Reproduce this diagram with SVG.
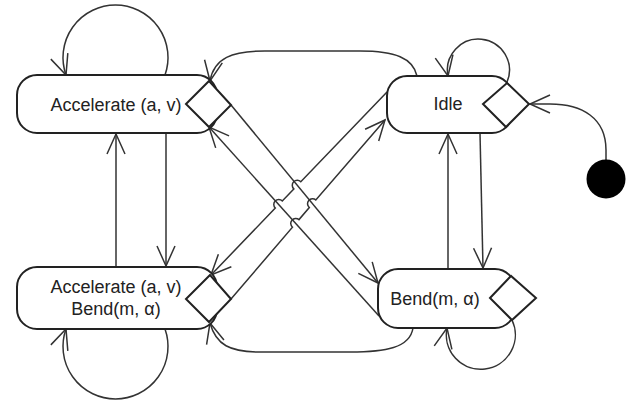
<svg xmlns="http://www.w3.org/2000/svg" width="628" height="403" viewBox="0 0 628 403">
  <style>
    .box { fill: #ffffff; stroke: #222222; stroke-width: 2; }
    .dia { fill: #ffffff; stroke: #222222; stroke-width: 2; stroke-linejoin: miter; }
    .lbl { font-family: "Liberation Sans", Arial, sans-serif; font-size: 18px; fill: #222222; text-anchor: middle; }
    .edge { fill: none; stroke: #333333; stroke-width: 1.5; marker-end: url(#arr); }
  </style>
  <defs>
    <marker id="arr" viewBox="-22 -12 24 24" refX="0" refY="0" markerWidth="24" markerHeight="24" markerUnits="userSpaceOnUse" orient="auto">
      <path d="M-20,-9 L0,0 L-20,9" fill="none" stroke="#333333" stroke-width="1.5"/>
    </marker>
  </defs>
  <rect width="628" height="403" fill="#ffffff"/>

  <g id="connectors">
    <!-- self loops -->
    <path class="edge" d="M165,75 A52.5,52.5 0 1 0 66,75"/>
    <path class="edge" d="M165,329 A52.5,52.5 0 1 1 66,329"/>
    <path class="edge" d="M507,82 A31,31 0 1 0 448,76"/>
    <path class="edge" d="M512,320 A34.5,34.5 0 1 1 447,328"/>
    <!-- verticals -->
    <path class="edge" d="M116,267 L116,134"/>
    <path class="edge" d="M166,133 L166,266"/>
    <path class="edge" d="M448,269 L448,134"/>
    <path class="edge" d="M480,133 L483,268"/>
    <!-- curves -->
    <path class="edge" d="M417,76 C413,58 395,51 360,51 L265,51 C232,51 214,58 210,81"/>
    <path class="edge" d="M413,328 C410,348 385,352 350,352 L260,352 C230,352 216,345 210,323"/>
    <path class="edge" d="M606,160 L606,150 C606,118 582,104 550,104 L530,104"/>
    <!-- diagonals -->
    <path class="edge" d="M231,105 L378,283"/>
    <path class="edge" d="M379,316 L209,127"/>
    <path class="edge" d="M387,92 L300.8,181.7 A5,5 0 0 0 293.8,188.9 L282.3,200.9 A5,5 0 0 0 275.3,208.1 L211,275"/>
    <path class="edge" d="M231,299 L292.5,227.2 A5,5 0 0 1 299,219.6 L309.3,207.5 A5,5 0 0 1 315.8,199.9 L385,120"/>
  </g>

  <g id="n-accelerate">
    <rect class="box" x="17" y="75" width="200" height="58" rx="20"/>
    <polygon class="dia" points="186,104 209,81 231,105 209,127"/>
    <text class="lbl" x="116" y="111">Accelerate (a, v)</text>
  </g>

  <g id="n-idle">
    <rect class="box" x="387" y="76" width="125" height="57" rx="20"/>
    <polygon class="dia" points="483,104 507,83 529,104 506,127"/>
    <text class="lbl" x="448" y="110">Idle</text>
  </g>

  <g id="n-accelerate-bend">
    <rect class="box" x="17" y="267" width="200" height="62" rx="20"/>
    <polygon class="dia" points="186,299 210,275 231,299 209,322"/>
    <text class="lbl" x="116" y="293">Accelerate (a, v)</text>
    <text class="lbl" x="116" y="315">Bend(m, α)</text>
  </g>

  <g id="n-bend">
    <rect class="box" x="378" y="269" width="137" height="59" rx="20"/>
    <polygon class="dia" points="490,298 511,276 536,298 512,320"/>
    <text class="lbl" x="435" y="305">Bend(m, α)</text>
  </g>

  <g id="n-initial">
    <circle cx="606" cy="179" r="19.5" fill="#000000"/>
  </g>
</svg>
